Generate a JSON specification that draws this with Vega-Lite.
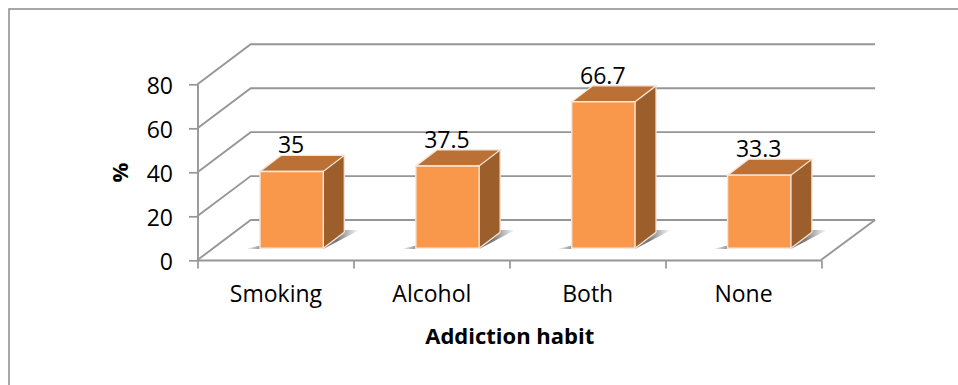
{
  "$schema": "https://vega.github.io/schema/vega-lite/v6.json",
  "width": 623.5,
  "height": 175.7,
  "autosize": {"type": "none"},
  "padding": {"left": 197.5, "top": 84.3, "right": 137, "bottom": 125},
  "background": "white",
  "view": {"stroke": null},
  "datasets": {
    "habits": [
      {"habit": "Smoking", "percent": 35},
      {"habit": "Alcohol", "percent": 37.5},
      {"habit": "Both", "percent": 66.7},
      {"habit": "None", "percent": 33.3}
    ],
    "levels": [{"level": 0}, {"level": 20}, {"level": 40}, {"level": 60}, {"level": 80}]
  },
  "encoding": {
    "x": {
      "field": "habit",
      "type": "nominal",
      "sort": null,
      "scale": {"paddingInner": 0, "paddingOuter": 0},
      "axis": {
        "title": "Addiction habit",
        "titleFont": "Open Sans",
        "titleFontSize": 22,
        "titleFontWeight": "bold",
        "titleColor": "#000000",
        "titlePadding": 20,
        "labelFont": "Open Sans",
        "labelFontSize": 23,
        "labelColor": "#000000",
        "labelAngle": 0,
        "labelPadding": 15,
        "tickBand": "extent",
        "tickSize": 8,
        "tickColor": "#969696",
        "tickWidth": 1.7,
        "domainColor": "#969696",
        "domainWidth": 1.8,
        "grid": false
      }
    }
  },
  "layer": [
    {
      "data": {"values": [{"part": "frame"}]},
      "mark": {"type": "point", "size": 4, "opacity": 1, "filled": false, "stroke": "#8a8a8a", "strokeWidth": 1.5, "shape": "M-500.25 300 L-500.25 -163.15 L500 -163.15"},
      "encoding": {"x": {"value": 311.75}, "y": {"value": 87.85}}
    },
    {
      "data": {"name": "levels"},
      "mark": {"type": "point", "size": 4, "opacity": 1, "filled": false, "stroke": "#969696", "strokeWidth": 1.9, "shape": "M-311.75 0 L-258.55 -40 L365.75 -40"},
      "encoding": {
        "x": {"value": 311.75},
        "y": {
          "field": "level",
          "type": "quantitative",
          "scale": {"domain": [0, 80], "nice": false},
          "axis": {
            "title": "%",
            "titleFont": "Open Sans",
            "titleFontSize": 22,
            "titleFontWeight": "bold",
            "titleColor": "#000000",
            "titlePadding": 14,
            "labelFont": "Open Sans",
            "labelFontSize": 23,
            "labelColor": "#000000",
            "labelPadding": 16,
            "labelOffset": 2,
            "values": [0, 20, 40, 60, 80],
            "tickSize": 9,
            "tickColor": "#969696",
            "tickWidth": 1.7,
            "domainColor": "#969696",
            "domainWidth": 1.9,
            "grid": false
          }
        }
      }
    },
    {
      "data": {"values": [{"level": 0}]},
      "mark": {"type": "point", "size": 4, "opacity": 1, "filled": false, "stroke": "#969696", "strokeWidth": 1.9, "shape": "M365.75 -40 L311.75 0"},
      "encoding": {"x": {"value": 311.75}, "y": {"field": "level", "type": "quantitative"}}
    },
    {
      "data": {"name": "habits"},
      "mark": {
        "type": "point", "size": 4, "opacity": 1, "filled": true, "stroke": null,
        "fill": {
          "gradient": "linear", "x1": 0, "x2": 1, "y1": 0, "y2": 0,
          "stops": [
            {"offset": 0, "color": "rgba(130,130,130,0)"},
            {"offset": 0.14, "color": "#8e8e8e"},
            {"offset": 0.8, "color": "#757575"},
            {"offset": 1, "color": "rgba(130,130,130,0)"}
          ]
        },
        "shape": "M-30 -11 L47.85 -11 L84 -30 L60 -30 L-5 -17 Z"
      },
      "encoding": {"y": {"datum": 0}}
    },
    {
      "data": {"name": "habits"},
      "mark": {"type": "bar", "width": 21, "xOffset": 58.35, "yOffset": -11.7, "y2Offset": -27.2, "color": "#9c5f2b"},
      "encoding": {"y": {"field": "percent", "type": "quantitative"}, "y2": {"datum": 0}}
    },
    {
      "data": {"name": "habits"},
      "mark": {"type": "point", "size": 4, "opacity": 1, "filled": true, "stroke": null, "fill": "#9c5f2b", "shape": "M47.85 -12.2 L68.85 -27.7 L68.85 -11.2 L47.85 -11.2 Z"},
      "encoding": {"y": {"field": "percent", "type": "quantitative"}}
    },
    {
      "data": {"name": "habits"},
      "mark": {"type": "point", "size": 4, "opacity": 1, "filled": true, "stroke": null, "fill": "#9c5f2b", "shape": "M47.85 -11.7 L68.85 -27.7 L47.85 -27.7 Z"},
      "encoding": {"y": {"datum": 0}}
    },
    {
      "data": {"name": "habits"},
      "mark": {"type": "point", "size": 4, "opacity": 1, "filled": false, "stroke": "#f6e4d6", "strokeWidth": 1.3, "shape": "M47.85 -11.7 L68.85 -27.7"},
      "encoding": {"y": {"datum": 0}}
    },
    {
      "data": {"name": "habits"},
      "mark": {"type": "rule", "xOffset": 68.85, "yOffset": -27.7, "y2Offset": -27.7, "color": "#f6e4d6", "strokeWidth": 1.3},
      "encoding": {"y": {"field": "percent", "type": "quantitative"}, "y2": {"datum": 0}}
    },
    {
      "data": {"name": "habits"},
      "mark": {"type": "point", "size": 4, "opacity": 1, "filled": true, "stroke": "#f6e4d6", "strokeWidth": 1.3, "fill": "#bb7035", "shape": "M-15.45 -11.7 L47.85 -11.7 L68.85 -27.7 L5.55 -27.7 Z"},
      "encoding": {"y": {"field": "percent", "type": "quantitative"}}
    },
    {
      "data": {"name": "habits"},
      "mark": {"type": "bar", "width": 63.3, "xOffset": 16.2, "yOffset": -11.7, "y2Offset": -11.7, "color": "#f9974a", "stroke": "#f8e8da", "strokeWidth": 1.4},
      "encoding": {"y": {"field": "percent", "type": "quantitative"}, "y2": {"datum": 0}}
    },
    {
      "data": {"name": "habits"},
      "mark": {"type": "text", "font": "Open Sans", "fontSize": 23, "color": "#000000", "baseline": "middle", "dx": 15.6, "dy": -37},
      "encoding": {
        "y": {"field": "percent", "type": "quantitative"},
        "text": {"field": "percent", "type": "quantitative"}
      }
    }
  ]
}
